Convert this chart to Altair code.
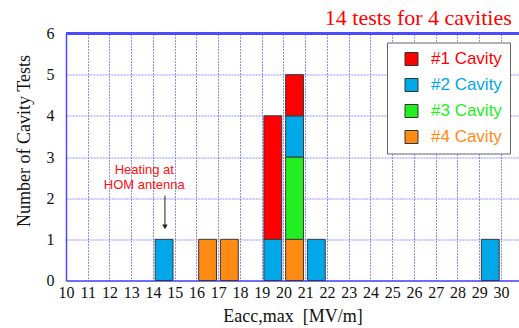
import altair as alt
import pandas as pd

# ---- data ----
bin_start = [14, 16, 17, 19, 19, 20, 20, 20, 20, 21, 29]
cavity = ["#2 Cavity", "#4 Cavity", "#4 Cavity", "#2 Cavity", "#1 Cavity",
          "#4 Cavity", "#3 Cavity", "#2 Cavity", "#1 Cavity", "#2 Cavity", "#2 Cavity"]
count = [1, 1, 1, 1, 3, 1, 2, 1, 1, 1, 1]

cavities = ["#1 Cavity", "#2 Cavity", "#3 Cavity", "#4 Cavity"]
colors = ["#ff0000", "#00a8e8", "#22ee22", "#ff8a14"]

x_ticks = list(range(10, 31))
y_ticks = [0, 1, 2, 3, 4, 5, 6]

note_lines = ["Heating at", "HOM antenna"]
note_x = [13.6, 13.6]
note_y = [2.69, 2.32]
arrow_x = [14.55]
arrow_top = [2.06]
arrow_tip = [1.3]

title_text = "14 tests for 4 cavities"

# ---- tables ----
df = pd.DataFrame({"start": bin_start, "cavity": cavity, "count": count})
df["x0"] = df["start"] + 0.1
df["x1"] = df["start"] + 0.92
# stack from #4 (bottom) to #1 (top)
df["order"] = df["cavity"].map({c: 4 - i for i, c in enumerate(cavities)})
df = df.sort_values(["start", "order"]).reset_index(drop=True)
df["y1"] = df.groupby("start")["count"].cumsum()
df["y0"] = df["y1"] - df["count"]

notes = pd.DataFrame({"text": note_lines, "x": note_x, "y": note_y})
arrow = pd.DataFrame({"x": arrow_x, "y": arrow_top, "y2": arrow_tip})

XDOM = [10, 30.83]
YDOM = [0, 6]
blue = "#4a4aff"

xscale = alt.Scale(domain=XDOM, nice=False, zero=False)
yscale = alt.Scale(domain=YDOM, nice=False)
xaxis = alt.Axis(values=x_ticks, title="Eacc,max\u00a0\u00a0[MV/m]",
                 labelOverlap=False, labelFlush=False, tickCount=21)
yaxis = alt.Axis(values=y_ticks, title="Number of Cavity Tests",
                 labelOverlap=False, labelFlush=False)

label_color_expr = ("datum.label == '#1 Cavity' ? '#ff0000' : "
                    "datum.label == '#2 Cavity' ? '#00a8e8' : "
                    "datum.label == '#3 Cavity' ? '#22ee22' : '#ff8a14'")

bars = alt.Chart(df).mark_rect(stroke="#3a3a3a", strokeWidth=1).encode(
    x=alt.X("x0:Q", scale=xscale, axis=xaxis),
    x2="x1:Q",
    y=alt.Y("y0:Q", scale=yscale, axis=yaxis),
    y2="y1:Q",
    color=alt.Color("cavity:N",
                    scale=alt.Scale(domain=cavities, range=colors),
                    legend=alt.Legend(
                        title=None, orient="none", legendX=321, legendY=9,
                        fillColor="white", strokeColor="#666666",
                        padding=8, symbolType="square", symbolSize=169,
                        symbolStrokeColor="#333333", symbolStrokeWidth=1,
                        symbolOffset=8,
                        labelFont="Liberation Sans", labelFontSize=17,
                        labelColor={"expr": label_color_expr},
                        labelOffset=11, rowPadding=8)),
)

top_rule = alt.Chart(df).mark_rule(color=blue, strokeWidth=1.5).encode(
    x=alt.X(datum=XDOM[0], scale=xscale, axis=xaxis), x2=alt.datum(XDOM[1]),
    y=alt.Y(datum=YDOM[1], scale=yscale, axis=yaxis)
)

note_text = alt.Chart(notes).mark_text(
    color="#ff1010", font="Liberation Sans", fontSize=13, align="center", baseline="middle"
).encode(x=alt.X("x:Q", scale=xscale, axis=xaxis),
         y=alt.Y("y:Q", scale=yscale, axis=yaxis), text="text:N")

arrow_line = alt.Chart(arrow).mark_rule(color="#222222", strokeWidth=1).encode(
    x=alt.X("x:Q", scale=xscale, axis=xaxis),
    y=alt.Y("y:Q", scale=yscale, axis=yaxis), y2="y2:Q"
)
arrow_head = alt.Chart(arrow).mark_point(
    shape="triangle-down", filled=True, color="#222222", size=30, opacity=1
).encode(x=alt.X("x:Q", scale=xscale, axis=xaxis),
         y=alt.Y("y2:Q", scale=yscale, axis=yaxis))

chart = alt.layer(bars, top_rule, note_text, arrow_line, arrow_head).properties(
    width=453, height=247,
    autosize="none",
    padding={"left": 66, "top": 33.5, "right": 0, "bottom": 47.5},
    title=alt.TitleParams(title_text, anchor="end", color="#ff0000",
                          font="Liberation Serif", fontSize=22, fontWeight="normal",
                          offset=-2, dx=-8, dy=2),
).configure_view(stroke=None).configure_axis(
    domainColor=blue, domainWidth=1.5,
    gridColor="#6a6aff", gridDash=[2, 1], gridOpacity=0.75, gridWidth=1,
    ticks=False,
    labelFont="Liberation Serif", labelFontSize=16, labelColor="#111111",
    titleFont="Liberation Serif", titleFontSize=18, titleFontWeight="normal",
    titleColor="#111111",
).configure_axisY(
    labelPadding=12, titleX=-42, titleY=107, titleAngle=-90,
    titleBaseline="middle", titleAlign="center",
).configure_axisX(
    labelPadding=4, titlePadding=7,
)

chart.save("out.html", embed_options={"renderer": "svg", "actions": False})
